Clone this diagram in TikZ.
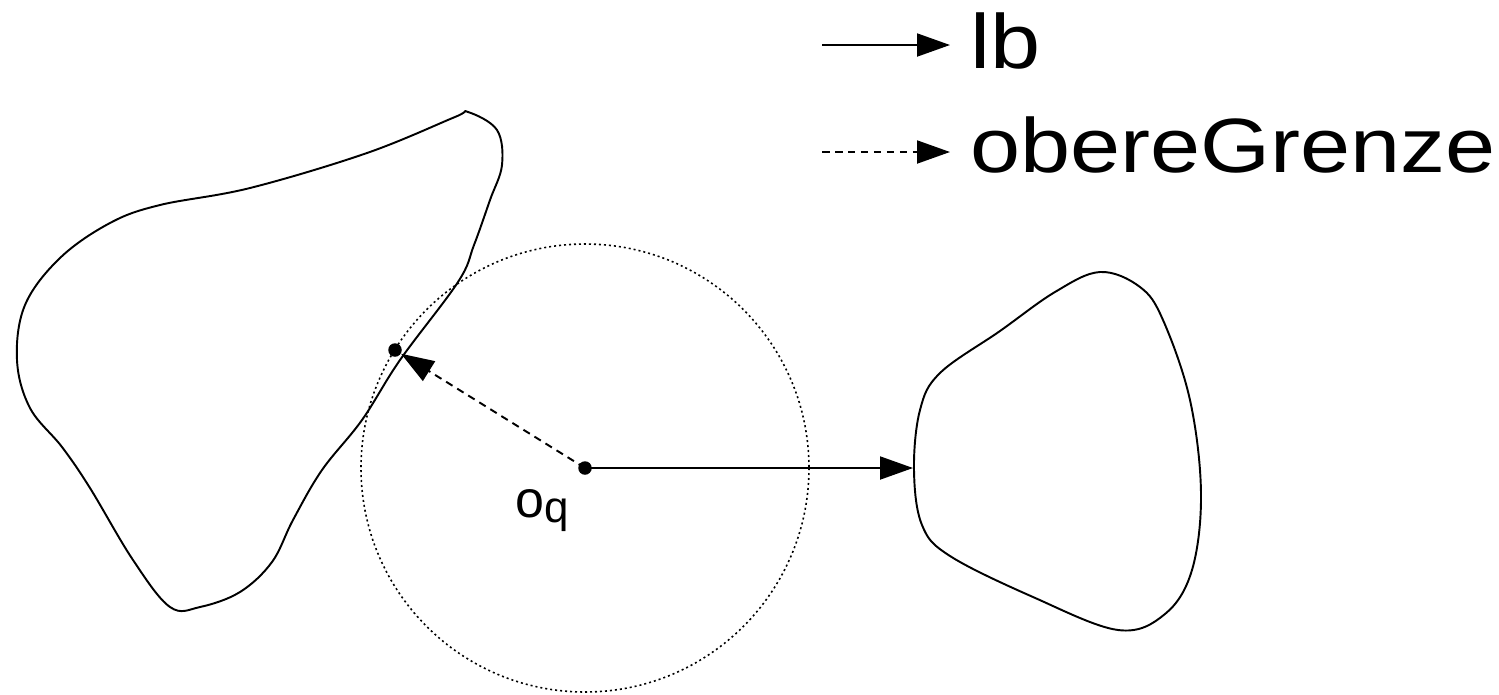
\documentclass[tikz,border=0pt]{standalone}
\usepackage{fontspec}
\setmainfont{Liberation Sans}
\usetikzlibrary{arrows.meta}
\tikzset{
  outline/.style={line width=1.1pt, line join=round},
  solidarrow/.style={line width=1.1pt, -{Triangle[length=0.66cm,width=0.46cm]}},
  dasharrow/.style={line width=1.1pt, dash pattern=on 0.15cm off 0.11cm, -{Triangle[length=0.66cm,width=0.46cm]}},
  dotcircle/.style={line width=0.9pt, dash pattern=on 0.04cm off 0.06cm},
  dotpt/.style={circle, fill=black, inner sep=0pt, minimum size=0.27cm},
  legtext/.style={anchor=base west, inner sep=0pt, font=\fontsize{43.8pt}{46pt}\selectfont},
}
\begin{document}
\begin{tikzpicture}[x=0.02cm, y=-0.02cm]
\path[use as bounding box] (0,0) rectangle (1499,694);
% left blob
\draw[outline] plot[smooth cycle, tension=0.6] coordinates {
 (468,112) (497,130) (502,165) (490,200) (474,245) (458,282)
 (400,360) (362,420) (322,470) (293,520) (272,562) (240,592) (200,607) (170,607)
 (133,560) (90,488) (62,447) (30,408) (17,360) (25,305) (60,258) (110,223)
 (160,205) (250,188) (367,153) (455,117)};
% right blob
\draw[outline] plot[smooth cycle, tension=0.6] coordinates {
 (1100,272) (1055,292) (1000,331) (940,373) (920,410) (914,470) (922,525)
 (950,556) (1033,597) (1118,630) (1165,614) (1192,570) (1201,493) (1190,400)
 (1163,320) (1140,287)};
% circle
\coordinate (O) at (585,468);
\draw[dotcircle] (O) circle[radius=224];
% points
\node[dotpt] (P) at (395,350) {};
\node[dotpt] (C) at (O) {};
\coordinate (B) at (913,468);
\draw[dasharrow] (C.center) -- (P);
\draw[solidarrow] (C.center) -- (B);
% label
\node[anchor=base west, inner sep=0pt] (lab) at (515,517)
 {\fontsize{29.6pt}{30pt}\selectfont o\raisebox{-3.4pt}{\fontsize{25pt}{26pt}\selectfont q}};
% legend
\coordinate (L1) at (822,45);
\coordinate (L1e) at (950,45);
\coordinate (L2) at (822,152);
\coordinate (L2e) at (950,152);
\draw[solidarrow] (L1) -- (L1e);
\draw[dasharrow] (L2) -- (L2e);
\node[legtext] (t1) at (970,68) {\scalebox{1.17}[1]{lb}};
\node[legtext] (t2) at (970,172) {\scalebox{1.17}[1]{obereGrenze}};
\end{tikzpicture}
\end{document}
